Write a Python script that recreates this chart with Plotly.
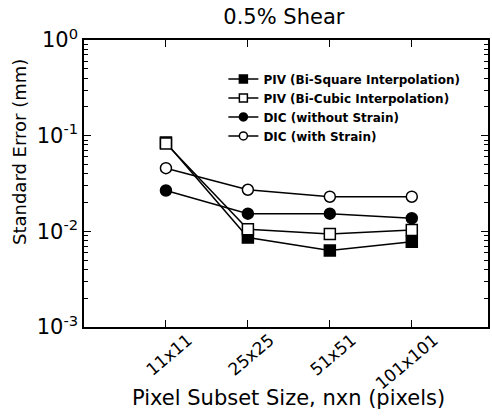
import plotly.graph_objects as go

categories = ["11x11", "25x25", "51x51", "101x101"]
piv_bisquare = [0.085, 0.0086, 0.0063, 0.0078]
piv_bicubic = [0.083, 0.0105, 0.0094, 0.0103]
dic_without = [0.0267, 0.0153, 0.0153, 0.0137]
dic_with = [0.0457, 0.0272, 0.023, 0.023]
series_names = ["PIV (Bi-Square Interpolation)", "PIV (Bi-Cubic Interpolation)",
                "DIC (without Strain)", "DIC (with Strain)"]
ytick_vals = [1, 0.1, 0.01, 0.001]
ytick_text = ["10<sup>0</sup>", "10<sup>-1</sup>", "10<sup>-2</sup>", "10<sup>-3</sup>"]

FONT = "DejaVu Sans, sans-serif"
xs = list(range(len(categories)))

styles = [
    dict(symbol="square", color="black"),
    dict(symbol="square", color="white"),
    dict(symbol="circle", color="black"),
    dict(symbol="circle", color="white"),
]

fig = go.Figure()
for name, vals, st in zip(series_names, [piv_bisquare, piv_bicubic, dic_without, dic_with], styles):
    fig.add_trace(go.Scatter(
        x=xs, y=vals, name=name, mode="lines+markers", showlegend=False,
        line=dict(color="black", width=1.5),
        marker=dict(symbol=st["symbol"], size=11, color=st["color"],
                    line=dict(color="black", width=1.5)),
    ))
# legend entries with smaller sample markers
for name, st in zip(series_names, styles):
    fig.add_trace(go.Scatter(
        x=[None], y=[None], name=name, mode="lines+markers", showlegend=True,
        line=dict(color="black", width=1.5),
        marker=dict(symbol=st["symbol"], size=8, color=st["color"],
                    line=dict(color="black", width=1.5)),
    ))

fig.update_layout(
    width=492, height=417,
    margin=dict(l=84, r=4, t=40, b=90),
    paper_bgcolor="white", plot_bgcolor="white",
    font=dict(family=FONT, color="black"),
    title=dict(text="0.5% Shear", x=0.577, xanchor="center", y=0.96, yanchor="middle",
               font=dict(size=21, family=FONT)),
    showlegend=True,
    legend=dict(x=0.345, y=0.915, xanchor="left", yanchor="top",
                bgcolor="rgba(0,0,0,0)", itemwidth=30, tracegroupgap=0,
                font=dict(size=12, family=FONT, weight="bold")),
    annotations=[
        dict(text="Standard Error (mm)", xref="paper", yref="paper",
             x=(19 - 84) / 404, y=1 - (152 - 40) / 287, textangle=-90,
             showarrow=False, xanchor="center", yanchor="middle",
             font=dict(size=18, family=FONT)),
        dict(text="Pixel Subset Size, nxn (pixels)", xref="paper", yref="paper",
             x=(288 - 84) / 404, y=-(398 - 327) / 287,
             showarrow=False, xanchor="center", yanchor="middle",
             font=dict(size=21, family=FONT)),
    ],
)

fig.update_xaxes(
    range=[-1, 3.93], tickvals=xs, ticktext=categories, tickangle=-40,
    ticks="inside", ticklen=7, tickwidth=1.2, tickcolor="black",
    showline=True, linecolor="black", linewidth=1.5, mirror="ticks",
    showgrid=False, zeroline=False, automargin=False,
    tickfont=dict(size=17, family=FONT), ticklabelshift=22, ticklabelstandoff=-5,
)
fig.update_yaxes(
    type="log", range=[-3, 0], tickvals=ytick_vals, ticktext=ytick_text,
    ticks="inside", ticklen=7, tickwidth=1.2, tickcolor="black",
    minor=dict(ticks="inside", ticklen=4, tickcolor="black", dtick="D1", showgrid=False),
    showline=True, linecolor="black", linewidth=1.5, mirror="ticks",
    showgrid=False, zeroline=False, automargin=False,
    tickfont=dict(size=21, family=FONT),
)

fig.write_html("out.html", config={"displayModeBar": False},
               post_script="document.body.style.margin='0';document.body.style.overflow='hidden';")
